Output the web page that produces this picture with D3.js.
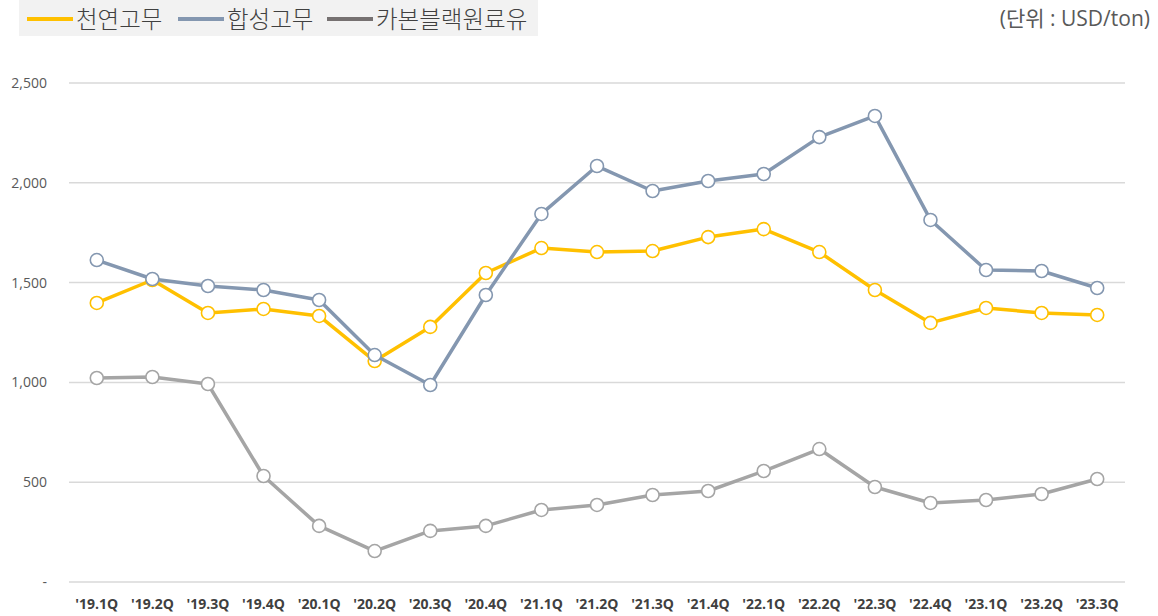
<!DOCTYPE html>
<meta charset="utf-8">
<style>
  body{ margin:0; background:#fff; }
  text{ font-family: "Open Sans", "Noto Sans CJK KR", sans-serif; }
  .grid line{ stroke:#d9d9d9; stroke-width:1.5; }
  .ytick{ fill:#595959; font-size:14px; }
  .xtick{ fill:#404040; font-size:14px; font-weight:bold; }
  .legend text{ font-family: "Noto Sans CJK KR", sans-serif; }
</style>

<svg width="1158" height="616"></svg>

<script src="https://d3js.org/d3.v7.min.js"></script>
<script>
  // data
  const quarters = ["'19.1Q","'19.2Q","'19.3Q","'19.4Q","'20.1Q","'20.2Q","'20.3Q","'20.4Q",
    "'21.1Q","'21.2Q","'21.3Q","'21.4Q","'22.1Q","'22.2Q","'22.3Q","'22.4Q","'23.1Q","'23.2Q","'23.3Q"]
  const natural = [1398,1513,1348,1368,1333,1107,1278,1548,1673,1653,1658,1728,1768,1653,1463,1298,1373,1348,1338]
  const synthetic = [1613,1518,1483,1463,1413,1137,987,1438,1844,2084,1959,2009,2044,2229,2335,1814,1563,1558,1473]
  const carbon = [1022,1027,992,531,281,155,256,281,361,386,436,456,556,666,476,396,411,441,516]
  const yTicks = [0,500,1000,1500,2000,2500]
  const seriesNames = ['천연고무','합성고무','카본블랙원료유']

  const series = [
    {name: seriesNames[2], values: carbon, color:'#a5a5a5', legend:'#767171'},
    {name: seriesNames[0], values: natural, color:'#ffc000', legend:'#ffc000'},
    {name: seriesNames[1], values: synthetic, color:'#8497b0', legend:'#8497b0'}
  ]

  const plot = {left:69, right:1125, top:83, bottom:582}
  const svg = d3.select('svg')

  let x = d3.scaleBand().domain(quarters).range([plot.left, plot.right])
  let y = d3.scaleLinear().domain([0,2500]).range([plot.bottom, plot.top])

  // gridlines
  svg.append('g').attr('class','grid')
    .selectAll('line').data(yTicks).enter().append('line')
    .attr('x1', plot.left).attr('x2', plot.right)
    .attr('y1', d=>y(d)).attr('y2', d=>y(d))

  // y labels
  svg.append('g').selectAll('text').data(yTicks).enter().append('text')
    .attr('class','ytick')
    .attr('x', 47).attr('y', d=>y(d)+5)
    .attr('text-anchor','end')
    .text(d=> d===0 ? '-' : d3.format(',')(d))

  // x labels
  svg.append('g').selectAll('text').data(quarters).enter().append('text')
    .attr('class','xtick')
    .attr('x', d=>x(d)+x.bandwidth()/2).attr('y', 609)
    .attr('text-anchor','middle')
    .text(d=>d)

  const line = d3.line()
    .x((d,i)=>x(quarters[i])+x.bandwidth()/2)
    .y(d=>y(d))

  series.forEach(s=>{
    const g = svg.append('g')
    g.append('path')
      .attr('d', line(s.values))
      .attr('fill','none')
      .attr('stroke', s.color)
      .attr('stroke-width', 3.5)
      .attr('stroke-linejoin','round')
    g.selectAll('circle').data(s.values).enter().append('circle')
      .attr('cx', (d,i)=>x(quarters[i])+x.bandwidth()/2)
      .attr('cy', d=>y(d))
      .attr('r', 6.5)
      .attr('fill','#fff')
      .attr('stroke', s.color)
      .attr('stroke-width', 1.6)
  })

  // legend
  const lg = svg.append('g').attr('class','legend')
  lg.append('rect').attr('x',19).attr('y',0).attr('width',519).attr('height',36).attr('fill','#f2f2f2')
  const legendItems = [series[1], series[2], series[0]]
  const legendX = [27, 178, 327]
  legendItems.forEach((s,i)=>{
    lg.append('line')
      .attr('x1', legendX[i]).attr('x2', legendX[i]+46)
      .attr('y1', 19).attr('y2', 19)
      .attr('stroke', s.legend).attr('stroke-width', 4)
    lg.append('text')
      .attr('x', legendX[i]+49).attr('y', 28)
      .attr('fill','#404040').attr('font-size', 23.5)
      .attr('font-weight', 300)
      .text(s.name)
  })

  // unit
  svg.append('text')
    .attr('x', 1150).attr('y', 26)
    .attr('text-anchor','end')
    .attr('fill','#595959').attr('font-size', 21)
    .text('(단위 : USD/ton)')
</script>
